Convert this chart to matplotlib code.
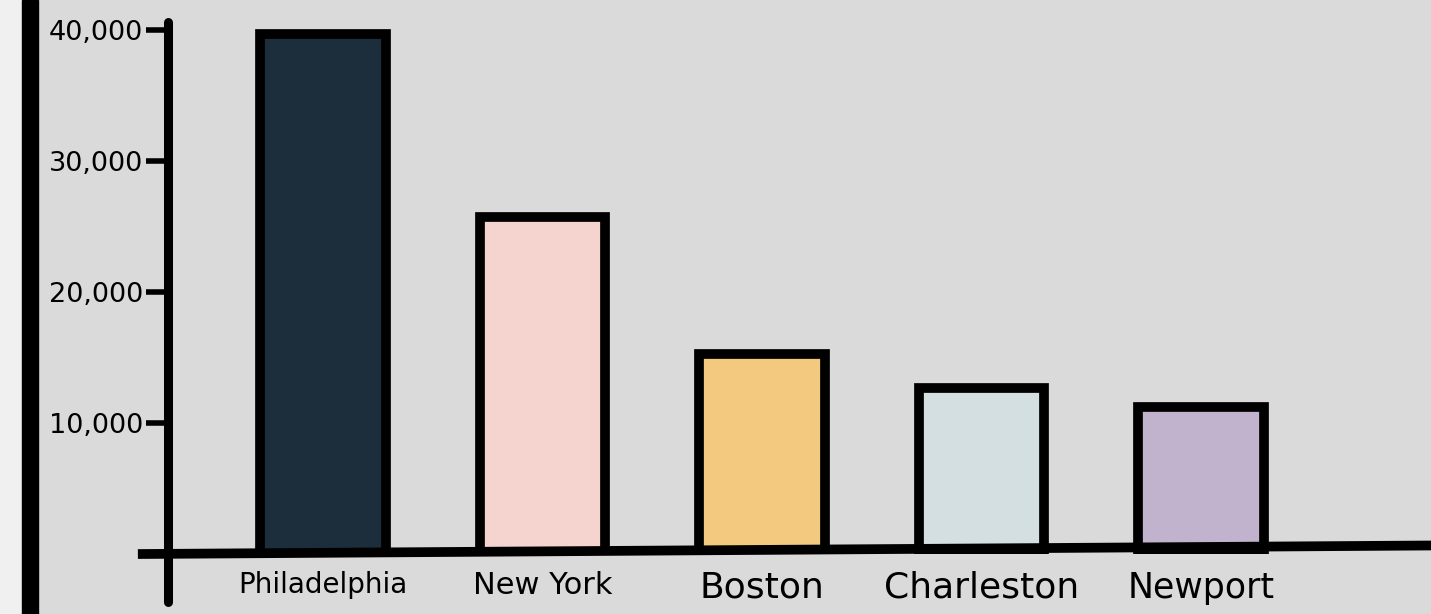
import matplotlib.pyplot as plt
from matplotlib.patches import Rectangle

# city populations (approx)
cities = ['Philadelphia', 'New York', 'Boston', 'Charleston', 'Newport']
population = [39700, 25700, 15300, 12700, 11200]
colors = ['#1c2d3c', '#f5d4d0', '#f2c97e', '#d3dfe0', '#c1b3cd']
label_sizes = [20, 22, 26, 26, 25]
yticks = [10000, 20000, 30000, 40000]

W, H = 1431, 614
fig = plt.figure(figsize=(W / 100, H / 100), dpi=100)
fig.patch.set_facecolor('#dadada')

# white margin + thick black frame line on the left
fig.patches.append(Rectangle((0, 0), 22 / W, 1, transform=fig.transFigure, color='#f0f0f0', zorder=0))
fig.patches.append(Rectangle((22 / W, 0), 16 / W, 1, transform=fig.transFigure, color='black', zorder=0))

ax = fig.add_axes([168 / W, 60 / H, (W - 168) / W, 550 / H])
ax.set_facecolor('#dadada')

x = range(len(cities))
ax.bar(x, population, width=0.57, color=colors, edgecolor='black', linewidth=7, zorder=2)

ax.set_xlim(-0.706, 5.048)
ax.set_ylim(0, 42000)

for s in ax.spines.values():
    s.set_visible(False)

# hand-drawn style axes
ax.plot([0, 0], [-3700, 40600], transform=ax.get_yaxis_transform(), color='black',
        lw=6.5, clip_on=False, solid_capstyle='round', zorder=3)
ax.plot([-0.02, 1.0], [0, 650], transform=ax.get_yaxis_transform(), color='black',
        lw=7, clip_on=False, zorder=3)

ax.set_yticks(yticks)
ax.set_yticklabels([f'{v:,}' for v in yticks], fontsize=19.5)
ax.tick_params(axis='y', direction='out', length=16, width=4, pad=2, color='black')

ax.set_xticks(list(x))
ax.set_xticklabels(cities)
ax.tick_params(axis='x', length=0, pad=12)
for lab, sz in zip(ax.get_xticklabels(), label_sizes):
    lab.set_fontsize(sz)

fig.savefig('out.png', dpi=100, facecolor=fig.get_facecolor())
